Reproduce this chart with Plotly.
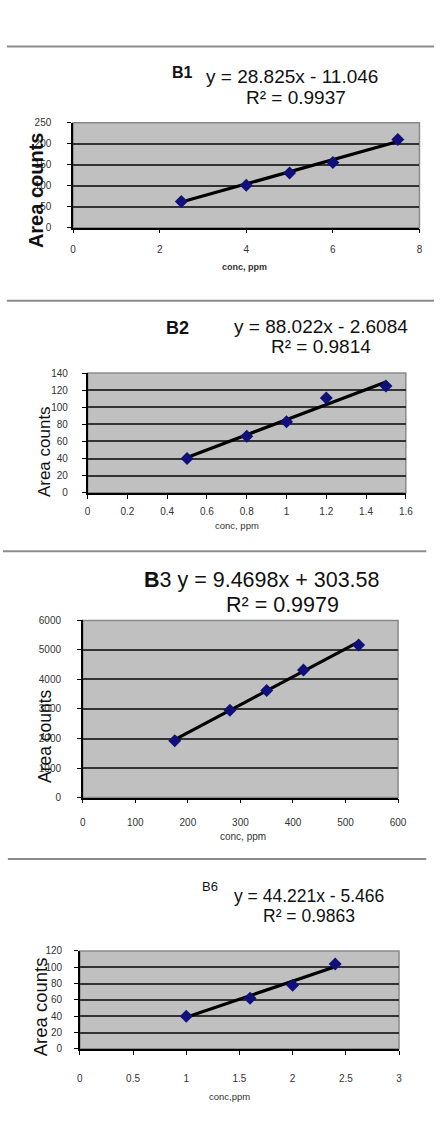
import plotly.graph_objects as go

W, H = 445, 1136

# ---- data ----
b1_conc = [2.5, 4, 5, 6, 7.5]
b1_area = [62, 101, 130, 155, 210]
b1_slope, b1_icpt, b1_r2 = 28.825, -11.046, 0.9937

b2_conc = [0.5, 0.8, 1.0, 1.2, 1.5]
b2_area = [40, 66, 83, 111, 125]
b2_slope, b2_icpt, b2_r2 = 88.022, -2.6084, 0.9814

b3_conc = [175, 280, 350, 420, 525]
b3_area = [1920, 2960, 3630, 4320, 5165]
b3_slope, b3_icpt, b3_r2 = 9.4698, 303.58, 0.9979

b6_conc = [1.0, 1.6, 2.0, 2.4]
b6_area = [40, 62, 78, 104]
b6_slope, b6_icpt, b6_r2 = 44.221, -5.466, 0.9863

x_ranges = [[0, 8], [0, 1.6], [0, 600], [0, 3]]
x_dticks = [2, 0.2, 100, 0.5]
y_ranges = [[0, 250], [0, 140], [0, 6000], [0, 120]]
y_dticks = [50, 20, 1000, 20]

FONT = "Liberation Sans, Arial, sans-serif"

def px_x(p):
    return p / W

def px_y(p):
    return 1 - p / H

# plot areas in pixels: (left, right, top, bottom)
areas = [(72, 428, 118, 224), (87, 414, 371, 492), (82, 406, 621, 800), (79, 407, 955, 1054)]
xstand = [8, 4, 11, 15]
ystand = [14, 12, 14, 10]

datasets = [
    (b1_conc, b1_area, b1_slope, b1_icpt),
    (b2_conc, b2_area, b2_slope, b2_icpt),
    (b3_conc, b3_area, b3_slope, b3_icpt),
    (b6_conc, b6_area, b6_slope, b6_icpt),
]

fig = go.Figure()
layout = dict(
    width=W, height=H, margin=dict(l=0, r=0, t=0, b=0),
    paper_bgcolor="white", plot_bgcolor="#c0c0c0",
    showlegend=False, font=dict(family=FONT, color="#222"),
)
shapes = []
for i, ((l, r, t, b), (xs, ys, m, c)) in enumerate(zip(areas, datasets)):
    n = "" if i == 0 else str(i + 1)
    xa, ya = "x" + n, "y" + n
    xmin, xmax = min(xs), max(xs)
    fig.add_trace(go.Scatter(x=[xmin, xmax], y=[m * xmin + c, m * xmax + c], mode="lines",
                             line=dict(color="black", width=3.2), xaxis=xa, yaxis=ya))
    fig.add_trace(go.Scatter(x=xs, y=ys, mode="markers",
                             marker=dict(symbol="diamond", size=10, color="#10107a"),
                             xaxis=xa, yaxis=ya))
    layout["xaxis" + n] = dict(
        domain=[px_x(l), px_x(r)], range=x_ranges[i], dtick=x_dticks[i], tick0=0,
        anchor=ya, showgrid=False, zeroline=False, showline=True, linecolor="black", linewidth=1.5,
        ticks="outside", ticklen=4, tickcolor="black", tickfont=dict(size=10, color="#333"),
        ticklabelstandoff=xstand[i],
    )
    layout["yaxis" + n] = dict(
        domain=[px_y(b), px_y(t)], range=y_ranges[i], dtick=y_dticks[i], tick0=0,
        anchor=xa, showgrid=True, gridcolor="#333", gridwidth=1.6, zeroline=False,
        showline=True, linecolor="black", linewidth=1.5,
        ticks="outside", ticklen=4, tickcolor="black", tickfont=dict(size=10, color="#333"),
        ticklabelstandoff=ystand[i],
    )
    shapes.append(dict(type="rect", xref="paper", yref="paper",
                       x0=px_x(l), x1=px_x(r), y0=px_y(b), y1=px_y(t),
                       line=dict(color="#8a8a8a", width=1.5), layer="below"))

# separators
for y, x0, x1 in [(41, 4, 443), (298, 4, 443), (551, 0, 435), (862, 5, 435)]:
    shapes.append(dict(type="line", xref="paper", yref="paper", x0=px_x(x0), x1=px_x(x1),
                       y0=px_y(y), y1=px_y(y), line=dict(color="#8c8c8c", width=2)))

def ann(text, x, y, size, bold=False, xanchor="left", angle=0, color="#111"):
    return dict(text=("<b>%s</b>" % text) if bold else text, x=px_x(x), y=px_y(y),
                xref="paper", yref="paper", xanchor=xanchor, yanchor="middle",
                showarrow=False, textangle=angle, font=dict(size=size, family=FONT, color=color))

annotations = [
    ann("B1", 172, 67, 16, bold=True),
    ann("y = %.3fx - %.3f" % (b1_slope, -b1_icpt), 207, 71, 19),
    ann("R² = %.4f" % b1_r2, 248, 92, 19),
    ann("conc, ppm", 248, 264, 9, bold=True, xanchor="center", color="#333"),
    ann("Area counts", 34, 186, 20, bold=True, xanchor="center", angle=-90),

    ann("B2", 165, 325, 18, bold=True),
    ann("y = %.3fx - %.4f" % (b2_slope, -b2_icpt), 235, 324, 19),
    ann("R² = %.4f" % b2_r2, 273, 344, 19),
    ann("conc, ppm", 240, 525, 9.5, xanchor="center", color="#333"),
    ann("Area counts", 42, 450, 17, xanchor="center", angle=-90),

    ann("<b>B</b>3 y = %.4fx + %.2f" % (b3_slope, b3_icpt), 143, 580, 21.5),
    ann("R² = %.4f" % b3_r2, 227, 605, 21.5),
    ann("conc, ppm", 247, 839, 10, xanchor="center", color="#333"),
    ann("Area counts", 43, 738, 17.5, xanchor="center", angle=-90),

    ann("B6", 202, 890, 13),
    ann("y = %.3fx - %.3f" % (b6_slope, -b6_icpt), 235, 899, 17.5),
    ann("R² = %.4f" % b6_r2, 265, 920, 17.5),
    ann("conc,ppm", 233, 1102, 9.5, xanchor="center", color="#333"),
    ann("Area counts", 38, 1011, 18.5, xanchor="center", angle=-90),
]
layout["shapes"] = shapes
layout["annotations"] = annotations
fig.update_layout(**layout)
fig.write_html("out.html")
